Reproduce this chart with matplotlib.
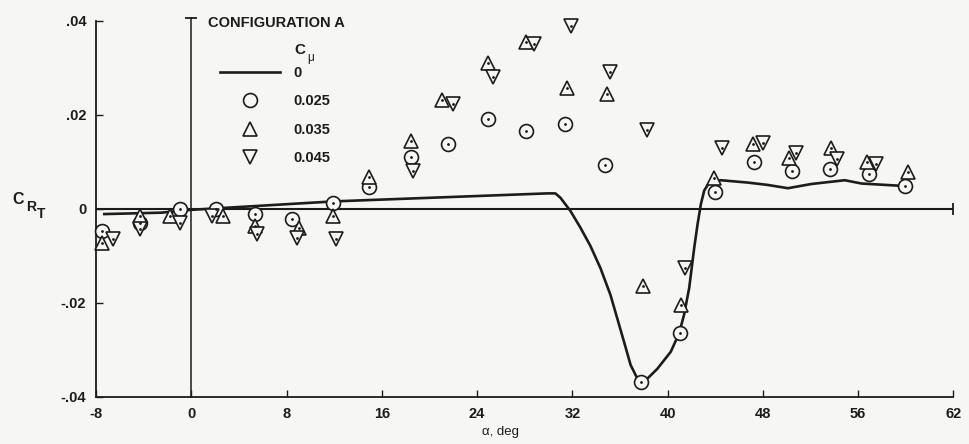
import matplotlib
matplotlib.use("Agg")
import matplotlib.pyplot as plt

plt.rcParams['font.family'] = ['Liberation Sans', 'DejaVu Sans']

INK = '#1c1c1c'
BG = '#f6f6f5'

# C_mu = 0 (faired curve)
alpha_0 = [-7.3, -2.5, 0.0, 12.0, 29.9, 30.57, 30.99, 31.83, 32.68, 33.52, 34.36,
           35.2, 35.77, 36.33, 36.89, 37.46, 37.73, 38.3, 39.14, 40.26, 40.96,
           41.38, 41.81, 42.23, 42.51, 42.79, 43.07, 43.49, 44.47, 46.73, 48.4,
           50.1, 52.07, 54.87, 56.28, 59.66]
crt_0 = [-0.0011, -0.0008, -0.0002, 0.0016, 0.0033, 0.0033, 0.0024, -0.0004, -0.0040,
         -0.0079, -0.0126, -0.0183, -0.0233, -0.0282, -0.0332, -0.0361, -0.0368,
         -0.0361, -0.0340, -0.0304, -0.0265, -0.0225, -0.0168, -0.0083, -0.0033,
         0.0010, 0.0039, 0.0056, 0.0061, 0.0056, 0.0051, 0.0044, 0.0053, 0.0061,
         0.0054, 0.0049]

# C_mu = 0.025 (circles)
alpha_025 = [-7.46, -4.3, -0.9, 2.04, 5.36, 8.5, 11.87, 14.91, 18.42, 21.6, 24.94,
             28.12, 31.41, 34.73, 37.8, 41.0, 43.97, 47.24, 50.47, 53.6, 56.9, 59.93]
crt_025 = [-0.0047, -0.0029, 0.0, 0.0, -0.0011, -0.0022, 0.0013, 0.0046, 0.0111,
           0.0138, 0.0192, 0.0165, 0.0180, 0.0094, -0.0368, -0.0263, 0.0035, 0.0099,
           0.0080, 0.0085, 0.0074, 0.0049]

# C_mu = 0.035 (triangles up)
alpha_035 = [-7.46, -4.3, -1.75, 2.66, 5.36, 9.07, 11.87, 14.91, 18.42, 21.06, 24.94,
             28.12, 31.55, 34.87, 37.93, 41.1, 43.86, 47.15, 50.19, 53.7, 56.7, 60.2]
crt_035 = [-0.0072, -0.0015, -0.0015, -0.0015, -0.0036, -0.0040, -0.0015, 0.0067,
           0.0144, 0.0231, 0.0311, 0.0354, 0.0258, 0.0245, -0.0163, -0.0205, 0.0066,
           0.0138, 0.0108, 0.0130, 0.0099, 0.0078]

# C_mu = 0.045 (triangles down)
alpha_045 = [-6.53, -4.3, -0.9, 1.76, 5.55, 8.87, 12.16, 18.62, 22.0, 25.36, 28.8,
             31.89, 35.2, 38.24, 41.45, 44.56, 48.0, 50.8, 54.18, 57.46]
crt_045 = [-0.0065, -0.0043, -0.0029, -0.0015, -0.0054, -0.0061, -0.0065, 0.0080,
           0.0223, 0.0280, 0.0351, 0.0390, 0.0292, 0.0167, -0.0126, 0.0129, 0.0140,
           0.0118, 0.0106, 0.0096]

x_ticks = [-8, 0, 8, 16, 24, 32, 40, 48, 56, 64]
x_labels = ['-8', '0', '8', '16', '24', '32', '40', '48', '56', '62']
y_ticks = [-0.04, -0.02, 0.0, 0.02, 0.04]
y_labels = ['-.04', '-.02', '0', '.02', '.04']

fig = plt.figure(figsize=(9.69, 4.44), dpi=100)
fig.patch.set_facecolor(BG)
ax = fig.add_axes([0.099, 0.106, 0.885, 0.847])
ax.set_facecolor(BG)

ax.set_xlim(-8, 64)
ax.set_ylim(-0.04, 0.04)

for s in ['top', 'right']:
    ax.spines[s].set_visible(False)
for s in ['left', 'bottom']:
    ax.spines[s].set_linewidth(1.3)
    ax.spines[s].set_color(INK)

ax.set_xticks(x_ticks)
ax.set_xticklabels(x_labels)
ax.set_yticks(y_ticks)
ax.set_yticklabels(y_labels)
ax.tick_params(direction='in', length=5, width=1.0, colors=INK, labelsize=10.5, pad=7)
for lbl in ax.get_xticklabels() + ax.get_yticklabels():
    lbl.set_fontweight('bold')

# reference lines
ax.axhline(0, color=INK, lw=1.5, zorder=1)
ax.plot([64], [0], marker='|', ms=9, mew=1.3, color=INK, clip_on=False)
ax.axvline(0, ymax=1.008, color=INK, lw=1.1, clip_on=False, zorder=1)
ax.plot([0], [0.0407], marker='_', ms=9, mew=1.3, color=INK, clip_on=False)

# data
ln0, = ax.plot(alpha_0, crt_0, color=INK, lw=1.9, zorder=2, label='0',
               solid_joinstyle='round')
mk = dict(ls='none', mfc=BG, mec=INK, mew=1.2, zorder=3, clip_on=False)
h1, = ax.plot(alpha_025, crt_025, marker='o', ms=10, label='0.025', **mk)
h2, = ax.plot(alpha_035, crt_035, marker='^', ms=10.5, label='0.035', **mk)
h3, = ax.plot(alpha_045, crt_045, marker='v', ms=10.5, label='0.045', **mk)
for xs, ys in [(alpha_025, crt_025), (alpha_035, crt_035), (alpha_045, crt_045)]:
    ax.plot(xs, ys, ls='none', marker='.', ms=2, color=INK, zorder=4, clip_on=False)

leg = fig.legend(handles=[ln0, h1, h2, h3], loc='upper left',
                 bbox_to_anchor=(0.227, 0.851), frameon=False,
                 fontsize=10.5, handlelength=4.1, handletextpad=0.9,
                 labelspacing=0.98, borderpad=0, borderaxespad=0)
for t in leg.get_texts():
    t.set_fontweight('bold')
    t.set_color(INK)

fig.text(0.215, 0.949, 'CONFIGURATION A', fontsize=10.5, fontweight='bold',
         color=INK, va='center', ha='left')
fig.text(0.304, 0.887, 'C', fontsize=11, fontweight='bold', color=INK,
         va='center', ha='left')
fig.text(0.317, 0.870, 'μ', fontsize=8.5, color=INK, va='center', ha='left')

# y label C_R_T
fig.text(0.013, 1 - 199 / 444, 'C', fontsize=11.5, fontweight='bold', color=INK,
         va='center', ha='left')
fig.text(0.027, 1 - 207 / 444, 'R', fontsize=10, fontweight='bold', color=INK,
         va='center', ha='left')
fig.text(0.038, 1 - 213.5 / 444, 'T', fontsize=10, fontweight='bold', color=INK,
         va='center', ha='left')

fig.text(0.517, 0.027, 'α, deg', fontsize=9.5, color=INK,
         va='center', ha='center')

fig.savefig('out.png', dpi=100, facecolor=BG)
